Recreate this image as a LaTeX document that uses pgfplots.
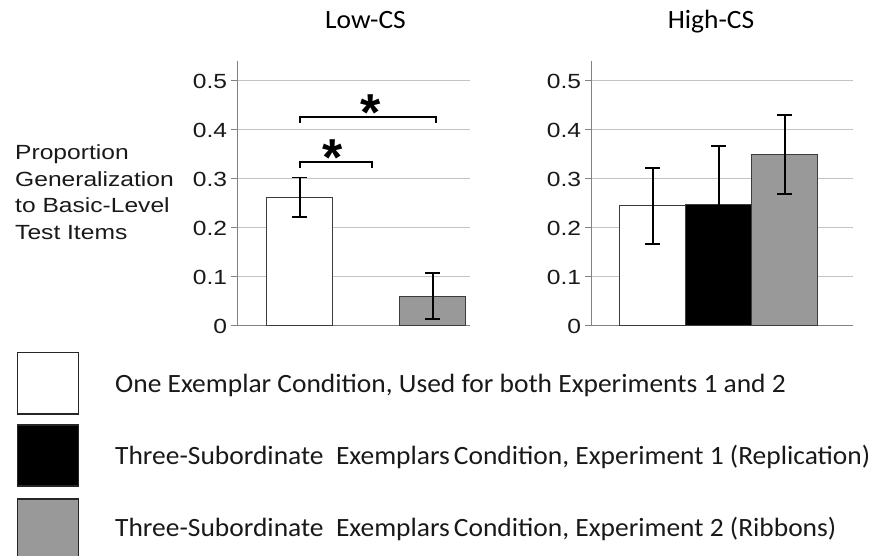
\documentclass[border=0pt]{standalone}
\usepackage{pgfplots}
\pgfplotsset{compat=1.18}
\usepackage{fontspec}
\setmainfont[FakeStretch=1.04]{Carlito}
\newfontfamily\arial[FakeStretch=1.2]{Liberation Sans}
\newfontfamily\starfont{Liberation Sans}
\definecolor{barGray}{RGB}{153,153,153}
\definecolor{gridGray}{RGB}{195,195,195}
\definecolor{axisGray}{RGB}{130,130,130}
\definecolor{edge}{RGB}{60,60,60}
\definecolor{errc}{RGB}{0,0,0}
\pgfplotsset{
  panel/.style={
    scale only axis, height=264.6pt,
    ymin=0, ymax=0.54,
    axis x line=bottom, axis y line=left,
    axis line style={-, draw=axisGray, line width=1pt},
    xtick=\empty,
    ytick={0,0.1,0.2,0.3,0.4,0.5},
    yticklabels={0,0.1,0.2,0.3,0.4,0.5},
    yticklabel style={font=\arial\fontsize{20.5}{24}\selectfont, text=black!90},
    ymajorgrids, grid style={gridGray, line width=1pt},
    major tick length=7pt, tick align=outside,
    tick style={axisGray, line width=1pt},
    clip=false, anchor=south west,
  },
  cbar/.style={ybar, bar width=1, bar shift=0pt, draw=edge, line width=1pt,
    error bars/y dir=both, error bars/y explicit,
    error bars/error bar style={line width=1.8pt, draw=errc},
    error bars/error mark options={line width=1.8pt, mark size=7.5pt, draw=errc, rotate=90}},
}
\begin{document}
\begin{tikzpicture}[x=1pt,y=1pt]
\useasboundingbox (0pt,0pt) rectangle (870pt,556pt);
% Low-CS panel
\begin{axis}[panel, at={(237.7pt,230pt)}, width=232pt, xmin=0.068, xmax=3.556]
  \addplot[cbar, fill=white] coordinates {(1,0.263) +- (0,0.040)};
  \addplot[cbar, fill=barGray] coordinates {(3,0.061) +- (0,0.047)};
  \draw[black, line width=2pt] (axis cs:1.0,0.322) -- (axis cs:1.0,0.335) -- (axis cs:2.08,0.335) -- (axis cs:2.08,0.322);
  \draw[black, line width=2pt] (axis cs:1.0,0.414) -- (axis cs:1.0,0.427) -- (axis cs:3.045,0.427) -- (axis cs:3.045,0.414);
\end{axis}
% High-CS panel
\begin{axis}[panel, at={(591.7pt,230pt)}, width=261pt, xmin=0.076, xmax=4.03]
  \addplot[cbar, fill=white] coordinates {(1,0.245) +- (0,0.077)};
  \addplot[cbar, fill=black] coordinates {(2,0.247) +- (0,0.121)};
  \addplot[cbar, fill=barGray] coordinates {(3,0.350) +- (0,0.081)};
\end{axis}
% stars
\node[anchor=base, inner sep=0] at (333pt,380.5pt) {\starfont\bfseries\fontsize{52}{60}\selectfont *};
\node[anchor=base, inner sep=0] at (370.5pt,425pt) {\starfont\bfseries\fontsize{52}{60}\selectfont *};
% titles
\node[anchor=base, inner sep=0] at (365.5pt,527pt) {\fontsize{26.4}{31}\selectfont Low-CS};
\node[anchor=base, inner sep=0] at (711pt,527pt) {\fontsize{26.4}{31}\selectfont High-CS};
% y label
\begin{scope}[every node/.style={anchor=base west, inner sep=0, font=\arial\fontsize{20.5}{24}\selectfont, text=black!90}]
\node at (15pt,396pt) {Proportion};
\node at (15pt,369.5pt) {Generalization};
\node at (15pt,343pt) {to Basic-Level};
\node at (15pt,316.5pt) {Test Items};
\end{scope}
% legend
\draw[black!85, line width=1.5pt, fill=white] (17.3pt,142pt) rectangle (78.7pt,203.3pt);
\draw[black!85, line width=1.5pt, fill=black] (17.3pt,70pt) rectangle (78.7pt,131pt);
\draw[black!85, line width=1.5pt, fill=barGray] (17.3pt,-4pt) rectangle (78.7pt,57pt);
\begin{scope}[every node/.style={anchor=base west, inner sep=0, font=\fontsize{26.4}{31}\selectfont, text=black!90}]
\node at (115pt,163pt) {One Exemplar Condition, Used for both Experiments 1 and 2};
\node at (115pt,91pt) {Three-Subordinate\ \ Exemplars\hspace{4pt}Condition, Experiment 1 (Replication)};
\node at (115pt,19pt) {Three-Subordinate\ \ Exemplars\hspace{4pt}Condition, Experiment 2 (Ribbons)};
\end{scope}
\end{tikzpicture}
\end{document}
